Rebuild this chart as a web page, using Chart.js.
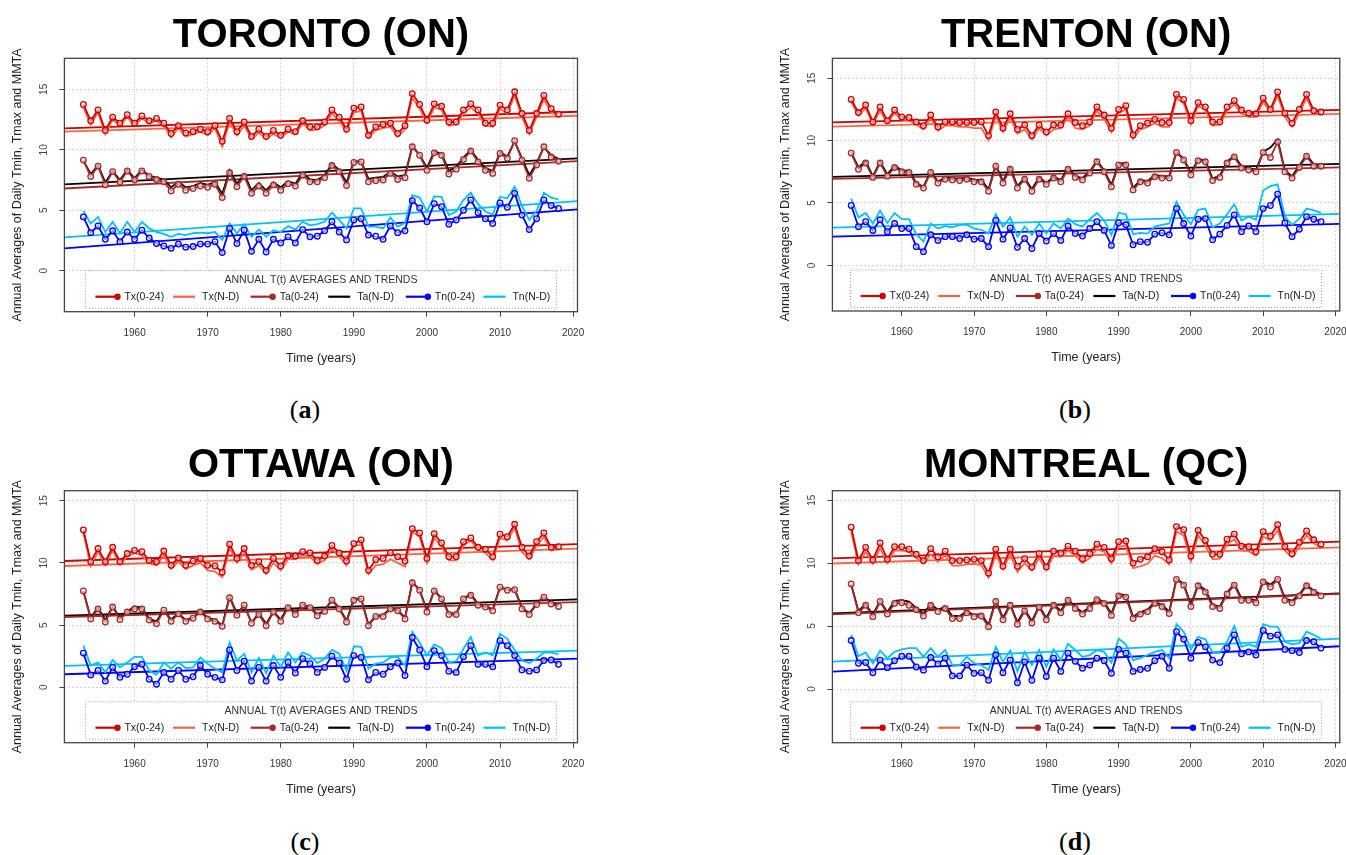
<!DOCTYPE html>
<html>
<head>
<meta charset="utf-8">
<script src="https://cdn.jsdelivr.net/npm/chart.js@4.4.1/dist/chart.umd.min.js"></script>
<style>
body { margin:0; width:1346px; height:855px; overflow:hidden; background:#fff; position:relative; }
canvas { position:absolute; }
.cap { position:absolute; font-family:"Liberation Serif","DejaVu Serif",serif; font-size:26px; line-height:1; color:#000; transform:translateX(-50%); }
</style>
</head>
<body>
<canvas id="cA" width="673" height="380" style="left:0;top:0"></canvas>
<canvas id="cB" width="590" height="380" style="left:768px;top:0"></canvas>
<canvas id="cC" width="673" height="380" style="left:0;top:430px"></canvas>
<canvas id="cD" width="590" height="380" style="left:768px;top:430px"></canvas>
<div class="cap" style="left:305px;top:397px">(<b>a</b>)</div>
<div class="cap" style="left:1075px;top:397px">(<b>b</b>)</div>
<div class="cap" style="left:305px;top:829px">(<b>c</b>)</div>
<div class="cap" style="left:1075px;top:829px">(<b>d</b>)</div>
<script>
// years and ticks
var years = [1953,1954,1955,1956,1957,1958,1959,1960,1961,1962,
             1963,1964,1965,1966,1967,1968,1969,1970,1971,1972,
             1973,1974,1975,1976,1977,1978,1979,1980,1981,1982,
             1983,1984,1985,1986,1987,1988,1989,1990,1991,1992,
             1993,1994,1995,1996,1997,1998,1999,2000,2001,2002,
             2003,2004,2005,2006,2007,2008,2009,2010,2011,2012,
             2013,2014,2015,2016,2017,2018];
var xTicks = [1960,1970,1980,1990,2000,2010,2020];
var yTicks = [0,5,10,15];
var seriesNames = ['Tx(0-24)','Tx(N-D)','Ta(0-24)','Ta(N-D)','Tn(0-24)','Tn(N-D)'];
var trendYears = [1950.4, 2020.6];

// TORONTO
var torTx   = [13.75,12.4,13.3,11.6,12.7,12.2,12.9,12.2,12.8,12.4,
               12.6,12.2,11.35,12.0,11.4,11.5,11.7,11.5,12.0,10.7,
               12.6,11.5,12.3,11.1,11.7,11.1,11.6,11.2,11.7,11.5,
               12.4,11.9,11.9,12.3,13.3,12.7,11.7,13.45,13.55,11.2,
               11.9,12.1,12.2,11.35,12.0,14.65,13.75,12.45,13.8,13.6,
               12.3,12.3,13.3,13.8,13.3,12.2,12.2,13.7,13.3,14.8,
               13.0,11.6,13.0,14.5,13.4,12.95];
var torTxND = [13.5,12.1,13.1,11.3,12.5,12.0,12.7,12.0,12.6,12.2,
               12.4,12.0,11.0,11.8,11.1,11.3,11.5,11.2,11.8,10.25,
               12.3,11.2,12.0,10.9,11.4,10.9,11.3,11.0,11.5,11.3,
               12.2,11.6,11.7,12.0,13.0,12.4,11.5,13.1,13.2,11.0,
               11.6,11.8,11.9,11.1,11.7,14.3,13.4,12.2,13.5,13.3,
               12.0,12.1,13.0,13.5,13.0,12.0,11.9,13.4,13.0,14.5,
               12.7,11.3,12.7,14.2,13.1,12.8];
var torTa   = [9.15,7.8,8.65,7.1,8.2,7.35,8.25,7.5,8.25,7.8,
               7.55,7.35,6.6,7.15,6.65,6.8,7.0,6.9,7.15,6.05,
               8.1,6.95,7.8,6.4,7.0,6.4,7.1,6.65,7.2,7.0,
               7.9,7.35,7.35,7.7,8.7,8.2,7.05,8.95,9.0,7.35,
               7.45,7.5,8.05,7.55,7.7,10.25,9.55,8.3,9.75,9.55,
               8.0,8.4,9.2,9.9,9.0,8.3,8.05,9.7,9.3,10.75,
               9.15,7.65,8.75,10.25,9.4,9.05];
var torTaND = [9.1,8.0,8.7,7.3,8.25,7.5,8.35,7.65,8.35,7.85,
               7.7,7.55,6.9,7.35,6.9,7.0,7.25,7.1,7.35,6.35,
               8.3,7.2,8.0,6.65,7.25,6.65,7.3,6.9,7.4,7.2,
               8.1,7.55,7.5,7.9,8.85,8.35,7.3,9.05,9.05,7.6,
               7.7,7.75,8.2,7.8,7.9,10.3,9.6,8.5,9.85,9.7,
               8.25,8.6,9.35,10.0,9.15,8.5,8.25,9.8,9.45,10.7,
               9.3,7.9,8.9,10.25,9.55,9.25];
var torTn   = [4.45,3.15,3.7,2.6,3.3,2.4,3.2,2.6,3.35,2.7,
               2.25,2.05,1.85,2.2,1.95,2.0,2.2,2.2,2.4,1.5,
               3.5,2.25,3.35,1.6,2.6,1.55,2.6,2.3,2.8,2.3,
               3.4,2.8,2.85,3.3,4.05,3.2,2.55,4.2,4.3,2.95,
               2.85,2.6,3.7,3.15,3.3,5.8,5.2,4.05,5.55,5.3,
               3.85,4.2,5.0,5.85,4.8,4.3,3.9,5.6,5.25,6.4,
               4.6,3.4,4.3,5.85,5.4,5.15];
var torTnND = [4.95,3.9,4.45,3.2,4.05,3.1,4.05,3.2,4.05,3.5,
               3.2,3.05,2.8,3.05,2.95,3.1,3.15,3.1,3.2,2.55,
               3.9,3.1,3.85,2.8,3.4,2.8,3.35,3.2,3.7,3.4,
               4.05,3.75,3.85,4.05,4.8,4.2,3.5,5.15,5.15,3.65,
               3.65,3.5,4.4,3.65,3.95,6.25,6.05,4.9,6.15,6.1,
               4.6,4.9,5.85,6.45,5.5,4.9,4.65,6.1,6.0,6.95,
               5.35,4.2,4.95,6.45,6.05,5.9];
var torTrends = [[11.77,13.15],[11.5,12.82],[6.8,9.07],[7.14,9.29],[1.85,5.07],[2.76,5.76]];

// TRENTON
var treTx   = [13.3,12.25,12.85,11.5,12.7,11.6,12.45,11.9,11.85,11.5,
               11.2,12.05,11.1,11.5,11.5,11.45,11.45,11.45,11.5,10.4,
               12.3,11.0,12.15,10.9,11.25,10.4,11.25,10.7,11.25,11.25,
               12.15,11.45,11.2,11.5,12.7,12.05,11.0,12.5,12.8,10.45,
               11.2,11.4,11.7,11.45,11.45,13.7,13.3,11.6,13.05,12.7,
               11.5,11.5,12.7,13.2,12.45,12.2,12.15,13.4,12.5,13.9,
               12.2,11.4,12.5,13.7,12.4,12.3];
var treTxND = [13.1,12.0,12.6,11.3,12.4,11.4,12.2,11.7,11.6,11.3,
               10.9,11.8,10.8,11.2,11.2,11.1,11.1,11.0,11.0,10.05,
               12.0,10.7,11.85,10.55,10.9,10.1,11.0,10.4,10.9,11.0,
               11.9,11.0,10.9,11.2,12.4,11.7,10.7,12.2,12.5,10.15,
               10.9,11.1,11.4,11.1,11.1,13.4,13.0,11.3,12.8,12.45,
               11.2,11.3,12.4,12.9,12.2,11.9,11.9,13.1,12.3,13.6,
               11.9,11.1,12.2,13.4,12.2,12.1];
var treTa   = [9.0,7.7,8.2,7.05,8.2,7.15,7.85,7.5,7.45,6.5,
               6.2,7.45,6.6,6.9,6.85,6.8,6.9,6.7,6.7,5.95,
               7.95,6.6,7.7,6.2,6.9,5.95,6.9,6.5,7.0,6.7,
               7.7,7.05,6.85,7.4,8.3,7.5,6.3,8.05,8.05,6.05,
               6.7,6.6,7.1,7.0,7.0,9.05,8.45,7.25,8.4,8.3,
               6.8,7.05,8.2,8.7,7.8,7.65,7.5,9.05,8.65,9.9,
               7.5,7.0,7.85,8.75,7.95,7.95];
var treTaND = [9.05,7.85,8.35,7.15,8.3,7.3,8.0,7.6,7.6,6.6,
               6.3,7.55,6.7,7.05,7.0,6.95,7.05,6.85,6.85,6.1,
               8.05,6.75,7.85,6.35,7.0,6.1,7.05,6.6,7.1,6.85,
               7.8,7.15,7.0,7.5,8.4,7.6,6.45,8.15,8.2,6.2,
               6.85,6.75,7.25,7.15,7.15,9.1,8.55,7.4,8.5,8.4,
               6.95,7.2,8.3,8.8,7.95,7.8,7.65,9.1,9.45,10.1,
               7.6,7.15,8.0,8.85,8.1,8.05];
var treTn   = [4.8,3.1,3.5,2.8,3.65,2.7,3.35,2.95,2.95,1.5,
               1.1,2.45,2.0,2.3,2.3,2.15,2.45,2.1,2.15,1.5,
               3.6,2.1,3.0,1.45,2.15,1.35,2.55,1.95,2.55,2.0,
               3.15,2.55,2.35,2.95,3.5,2.8,1.6,3.4,3.25,1.65,
               1.9,1.85,2.5,2.6,2.45,4.55,3.35,2.35,3.7,3.75,
               2.05,2.5,3.2,4.05,2.7,3.15,2.7,4.55,4.8,5.7,
               3.4,2.3,2.9,3.9,3.7,3.5];
var treTnND = [5.35,3.85,4.2,3.35,4.4,3.4,4.2,3.7,3.7,2.5,
               1.9,3.35,2.95,3.15,3.05,3.25,3.25,2.95,2.85,2.55,
               4.1,3.1,3.85,2.3,3.1,2.45,3.35,2.55,3.35,2.95,
               3.75,3.3,3.1,3.7,4.2,3.6,2.45,4.2,4.1,2.5,
               2.6,2.55,3.1,3.25,3.35,5.1,4.05,3.3,4.45,4.55,
               3.05,3.35,4.1,4.9,3.6,3.9,3.65,6.0,6.35,6.5,
               3.9,3.25,3.75,4.55,4.4,4.2];
var treTrends = [[11.47,12.46],[11.12,12.14],[6.93,7.86],[7.1,8.13],[2.3,3.32],[3.02,4.12]];

// OTTAWA
var ottTx   = [12.65,10.1,11.15,10.1,11.25,10.1,10.75,11.0,10.9,10.2,
               10.1,10.95,9.8,10.4,9.8,10.15,10.35,9.8,9.75,9.25,
               11.5,10.35,11.15,9.8,10.1,9.4,10.35,9.75,10.6,10.55,
               10.9,10.8,10.2,10.55,11.4,10.8,10.15,11.55,11.85,9.4,
               10.25,10.35,10.8,10.5,10.15,12.75,12.4,10.35,12.35,11.6,
               10.5,10.5,11.7,12.0,11.25,11.1,10.5,12.3,12.1,13.1,
               11.25,10.55,11.7,12.4,11.25,11.3];
var ottTxND = [12.4,9.75,10.9,9.8,11.0,9.85,10.5,10.8,10.6,9.95,
               9.8,10.6,9.5,10.1,9.5,9.8,10.0,9.4,9.3,8.85,
               11.2,10.0,10.8,9.45,9.8,9.1,10.0,9.4,10.3,10.3,
               10.6,10.5,9.9,10.2,11.1,10.5,9.8,11.3,11.5,9.1,
               9.8,9.9,10.3,10.0,9.7,12.5,12.1,10.0,12.0,11.3,
               10.2,10.2,11.4,11.8,11.0,10.8,10.2,12.0,11.8,12.8,
               10.9,10.3,11.4,12.1,11.0,11.1];
var ottTa   = [7.75,5.5,6.3,5.25,6.45,5.45,6.05,6.3,6.3,5.4,
               5.1,6.2,5.3,5.9,5.3,5.55,6.05,5.5,5.3,4.9,
               7.2,5.8,6.6,5.15,5.85,4.95,6.05,5.3,6.4,5.85,
               6.6,6.4,5.75,6.1,7.0,6.3,5.25,7.0,7.1,4.95,
               5.7,5.7,6.3,6.15,5.5,8.4,7.8,6.05,7.75,7.1,
               5.85,5.85,7.1,7.4,6.6,6.45,6.15,8.05,7.8,7.85,
               6.3,5.85,6.65,7.25,6.7,6.5];
var ottTaND = [7.7,5.6,6.4,5.4,6.5,5.6,6.1,6.5,6.4,5.5,
               5.3,6.2,5.45,5.95,5.4,5.6,6.1,5.6,5.4,5.0,
               7.3,5.95,6.6,5.2,5.95,5.1,6.1,5.45,6.5,5.95,
               6.65,6.45,5.85,6.2,7.05,6.4,5.35,7.1,7.15,5.05,
               5.75,5.8,6.35,6.2,5.6,8.45,7.85,6.15,7.8,7.15,
               5.95,5.95,7.15,7.5,6.7,6.55,6.25,8.05,7.85,7.9,
               6.4,5.95,6.7,7.3,6.8,6.6];
var ottTn   = [2.75,1.0,1.35,0.5,1.6,0.8,1.05,1.65,1.85,0.65,
               0.25,1.2,0.65,1.35,0.65,0.85,1.75,1.05,0.8,0.6,
               3.0,1.35,2.1,0.5,1.6,0.5,1.75,0.8,2.0,1.15,
               2.3,1.9,1.2,1.6,2.5,1.95,0.65,2.55,2.4,0.6,
               1.2,1.05,1.65,1.95,0.95,4.0,3.0,1.65,2.95,2.55,
               1.3,1.2,2.45,3.35,1.85,1.85,1.65,3.75,3.35,2.55,
               1.4,1.3,1.4,2.15,2.2,1.85];
var ottTnND = [3.35,1.75,2.0,1.2,2.2,1.6,2.0,2.45,2.45,1.35,
               1.0,2.0,1.5,2.0,1.55,1.6,2.4,1.9,1.5,1.2,
               3.6,2.15,2.7,1.2,2.35,1.15,2.55,1.65,2.8,2.0,
               2.8,2.55,1.95,2.3,3.0,2.7,1.35,3.3,3.25,1.5,
               1.9,2.0,2.4,2.45,1.75,4.45,3.6,2.55,3.45,3.15,
               2.0,2.1,3.1,4.05,2.55,2.8,2.55,4.3,3.9,3.0,
               2.15,1.95,2.3,2.8,2.8,2.65];
var ottTrends = [[10.15,11.5],[9.75,11.15],[5.65,6.85],[5.75,7.07],[1.05,2.3],[1.72,2.95]];

// MONTREAL
var monTx   = [12.85,10.2,11.25,10.25,11.6,10.3,11.3,11.3,11.1,10.7,
               10.2,11.15,10.5,10.95,10.2,10.2,10.25,10.3,10.2,9.2,
               11.1,9.75,11.1,9.75,10.35,9.7,10.75,9.7,10.95,10.8,
               11.35,10.95,10.35,10.75,11.5,11.25,10.35,11.7,11.75,10.0,
               10.3,10.5,11.15,10.9,10.25,12.9,12.65,10.55,12.6,11.8,
               10.7,10.7,11.9,12.3,11.35,11.3,10.9,12.5,12.15,13.05,
               11.3,10.75,11.65,12.55,11.85,11.5];
var monTxND = [12.5,9.9,10.9,9.95,11.2,10.0,11.0,11.0,10.9,10.4,
               9.95,10.7,10.1,10.6,9.8,9.8,9.9,9.95,9.85,8.85,
               10.7,9.5,10.7,9.3,10.0,9.4,10.4,9.45,10.6,10.5,
               11.0,10.6,10.0,10.4,11.1,10.9,10.0,11.3,11.4,9.6,
               9.75,9.95,10.6,10.4,9.9,12.5,12.2,10.15,12.2,11.4,
               10.3,10.35,11.5,11.9,11.0,10.95,10.6,12.1,11.8,12.6,
               11.0,10.45,11.3,12.2,11.6,11.2];
var monTa   = [8.35,6.05,6.65,5.75,6.95,5.95,6.8,6.85,6.65,6.3,
               5.8,6.65,6.15,6.4,5.6,5.6,6.05,5.75,5.8,4.95,
               6.95,5.5,6.65,5.15,6.2,5.25,6.5,5.5,6.65,6.05,
               7.05,6.4,5.95,6.4,7.1,6.8,5.85,7.4,7.3,5.6,
               5.95,6.15,6.8,6.55,6.0,8.7,8.25,6.55,8.2,7.7,
               6.55,6.4,7.55,8.25,7.05,7.05,6.85,8.5,8.1,8.7,
               7.05,6.85,7.4,8.2,7.7,7.4];
var monTaND = [8.3,6.2,6.75,5.9,7.0,6.1,7.0,7.05,6.95,6.45,
               5.95,6.75,6.3,6.55,5.8,5.8,6.15,5.9,5.95,5.1,
               7.05,5.65,6.75,5.3,6.3,5.4,6.6,5.65,6.75,6.2,
               7.15,6.5,6.1,6.5,7.2,6.9,6.0,7.55,7.45,5.75,
               6.1,6.3,6.9,6.7,6.15,8.75,8.35,6.7,8.3,7.85,
               6.7,6.55,7.65,8.35,7.2,7.2,7.0,8.6,8.3,8.75,
               7.2,7.0,7.5,8.3,7.8,7.5];
var monTn   = [3.85,2.05,2.1,1.3,2.3,1.7,2.25,2.6,2.6,1.75,
               1.5,2.5,2.0,2.45,1.05,1.05,1.9,1.25,1.3,0.7,
               2.7,1.3,2.3,0.5,2.15,0.7,2.45,1.0,2.45,1.4,
               2.85,2.2,1.65,1.9,2.45,2.25,1.25,3.15,2.85,1.4,
               1.55,1.65,2.25,2.6,1.65,4.55,3.95,2.45,3.7,3.35,
               2.3,2.1,3.25,4.3,2.8,2.95,2.7,4.65,4.2,4.3,
               3.15,3.05,2.9,3.85,3.75,3.25];
var monTnND = [4.3,2.6,2.9,2.05,3.05,2.45,2.95,3.15,3.25,3.25,
               2.55,3.25,2.55,3.1,1.9,1.9,2.55,2.05,1.9,1.5,
               3.35,2.15,3.05,1.4,2.95,1.9,3.1,1.75,3.15,2.3,
               3.6,3.1,2.55,2.7,3.1,2.95,2.1,4.0,3.55,2.3,
               2.45,2.7,2.95,3.1,2.45,5.15,4.55,3.15,4.15,3.95,
               2.9,2.9,3.75,5.0,3.35,3.55,3.35,5.15,4.95,4.95,
               3.75,3.55,3.65,4.55,4.3,4.0];
var monTrends = [[10.37,11.7],[9.97,11.25],[5.93,7.55],[6.0,7.6],[1.38,3.4],[2.17,4.0]];

var colors = ['#cd0000','#ff6347','#a52a2a','#000000','#0000ff','#00bfff'];
var withPoints = [true,false,true,false,true,false];
var FONT = '"Liberation Sans", Arial, sans-serif';

Chart.defaults.font.family = FONT;

// panel frame, rotated y labels, big title and the in-plot legend (R style)
var rPanel = {
    id: 'rPanel',
    afterDraw: function(chart, args, opts) {
        var ctx = chart.ctx, a = chart.chartArea, ys = chart.scales.y;
        ctx.save();
        ctx.strokeStyle = '#444';
        ctx.lineWidth = 1.3;
        ctx.strokeRect(a.left, a.top, a.right - a.left, a.bottom - a.top);

        ctx.fillStyle = '#444';
        ctx.font = '10px ' + FONT;
        ctx.textAlign = 'center';
        ctx.textBaseline = 'middle';
        yTicks.forEach(function(v) {
            ctx.save();
            ctx.translate(a.left - 20, ys.getPixelForValue(v));
            ctx.rotate(-Math.PI / 2);
            ctx.fillText(String(v), 0, 0);
            ctx.restore();
        });

        var cx = (a.left + a.right) / 2;
        ctx.fillStyle = '#000';
        ctx.font = 'bold 40px ' + FONT;
        ctx.textBaseline = 'alphabetic';
        ctx.fillText(opts.title, cx, 46.7);

        // legend box
        var lw = 471, lh = 37.5;
        var lx = cx - lw / 2, ly = a.bottom - 3.5 - lh;
        ctx.fillStyle = '#fff';
        ctx.fillRect(lx, ly, lw, lh);
        ctx.setLineDash([1, 2]);
        ctx.strokeStyle = '#9a9a9a';
        ctx.lineWidth = 1;
        ctx.strokeRect(lx, ly, lw, lh);
        ctx.setLineDash([]);
        ctx.fillStyle = '#333';
        ctx.font = '10.5px ' + FONT;
        ctx.textBaseline = 'middle';
        ctx.fillText('ANNUAL T(t) AVERAGES AND TRENDS', cx, ly + 9);
        seriesNames.forEach(function(name, k) {
            var x0 = lx + 10 + k * 77.6, yy = ly + 26;
            ctx.strokeStyle = colors[k];
            ctx.lineWidth = 2.2;
            ctx.beginPath();
            ctx.moveTo(x0, yy);
            ctx.lineTo(x0 + 22, yy);
            ctx.stroke();
            if (withPoints[k]) {
                ctx.fillStyle = colors[k];
                ctx.beginPath();
                ctx.arc(x0 + 22, yy, 3.2, 0, Math.PI * 2);
                ctx.fill();
            }
            ctx.fillStyle = '#222';
            ctx.textAlign = 'left';
            ctx.fillText(name, x0 + 29, yy);
        });
        ctx.restore();
    }
};

function makePanel(p) {
    var ds = [];
    p.series.forEach(function(vals, k) {
        ds.push({
            label: seriesNames[k],
            data: years.map(function(yr, i) { return {x: yr, y: vals[i]}; }),
            borderColor: colors[k],
            borderWidth: 1.8,
            pointRadius: withPoints[k] ? 2.8 : 0,
            pointBorderWidth: 1.3,
            pointBorderColor: colors[k],
            pointBackgroundColor: 'rgba(255,255,255,0.55)',
            order: withPoints[k] ? 1 : 2
        });
    });
    p.trends.forEach(function(tr, k) {
        ds.push({
            label: seriesNames[k] + ' trend',
            data: trendYears.map(function(yr, i) { return {x: yr, y: tr[i]}; }),
            borderColor: colors[k],
            borderWidth: 1.8,
            pointRadius: 0,
            order: 3
        });
    });

    var canvas = document.getElementById(p.id);
    var H = canvas.height, W = canvas.width;

    new Chart(canvas, {
        type: 'line',
        data: { datasets: ds },
        options: {
            responsive: false,
            animation: false,
            devicePixelRatio: 1,
            events: [],
            layout: { padding: { top: p.boxTop, right: W - p.boxRight, left: 0, bottom: 0 } },
            plugins: {
                legend: { display: false },
                tooltip: { enabled: false },
                rPanel: { title: p.name }
            },
            scales: {
                x: {
                    type: 'linear',
                    min: trendYears[0],
                    max: trendYears[1],
                    afterBuildTicks: function(s) { s.ticks = xTicks.map(function(v) { return {value: v}; }); },
                    afterFit: function(s) { s.height = H - p.boxBottom; },
                    ticks: {
                        autoSkip: false, maxRotation: 0, padding: 10.5,
                        color: '#333', font: { size: 10 },
                        callback: function(v) { return String(v); }
                    },
                    grid: { color: '#d3d3d3', lineWidth: 1, tickLength: 5, tickColor: '#444', tickWidth: 1 },
                    border: { display: false, dash: [2, 2] },
                    title: {
                        display: true, text: 'Time (years)', color: '#222',
                        font: { size: 12.5 },
                        padding: { top: 0, bottom: H - 7.5 - p.boxBottom - 46.5 }
                    }
                },
                y: {
                    min: p.yMin,
                    max: p.yMax,
                    afterBuildTicks: function(s) { s.ticks = yTicks.map(function(v) { return {value: v}; }); },
                    afterFit: function(s) { s.width = 64.4; },
                    ticks: { display: false },
                    grid: { color: '#d3d3d3', lineWidth: 1, tickLength: 5, tickColor: '#444', tickWidth: 1 },
                    border: { display: false, dash: [2, 2] },
                    title: {
                        display: true, text: 'Annual Averages of Daily Tmin, Tmax and MMTA',
                        color: '#222', font: { size: 12.5 }, padding: { top: 10.5, bottom: 0 }
                    }
                }
            }
        },
        plugins: [rPanel]
    });
}

makePanel({ id: 'cA', name: 'TORONTO (ON)', boxTop: 58.3, boxBottom: 311.7, boxRight: 577.5, yMin: -3.39, yMax: 17.57,
    series: [torTx, torTxND, torTa, torTaND, torTn, torTnND], trends: torTrends });
makePanel({ id: 'cB', name: 'TRENTON (ON)', boxTop: 58.3, boxBottom: 311, boxRight: 571.8, yMin: -3.66, yMax: 16.6,
    series: [treTx, treTxND, treTa, treTaND, treTn, treTnND], trends: treTrends });
makePanel({ id: 'cC', name: 'OTTAWA (ON)', boxTop: 60.7, boxBottom: 312.7, boxRight: 577.5, yMin: -4.45, yMax: 15.8,
    series: [ottTx, ottTxND, ottTa, ottTaND, ottTn, ottTnND], trends: ottTrends });
makePanel({ id: 'cD', name: 'MONTREAL (QC)', boxTop: 60.7, boxBottom: 312.7, boxRight: 571.8, yMin: -4.26, yMax: 15.75,
    series: [monTx, monTxND, monTa, monTaND, monTn, monTnND], trends: monTrends });
</script>
</body>
</html>
